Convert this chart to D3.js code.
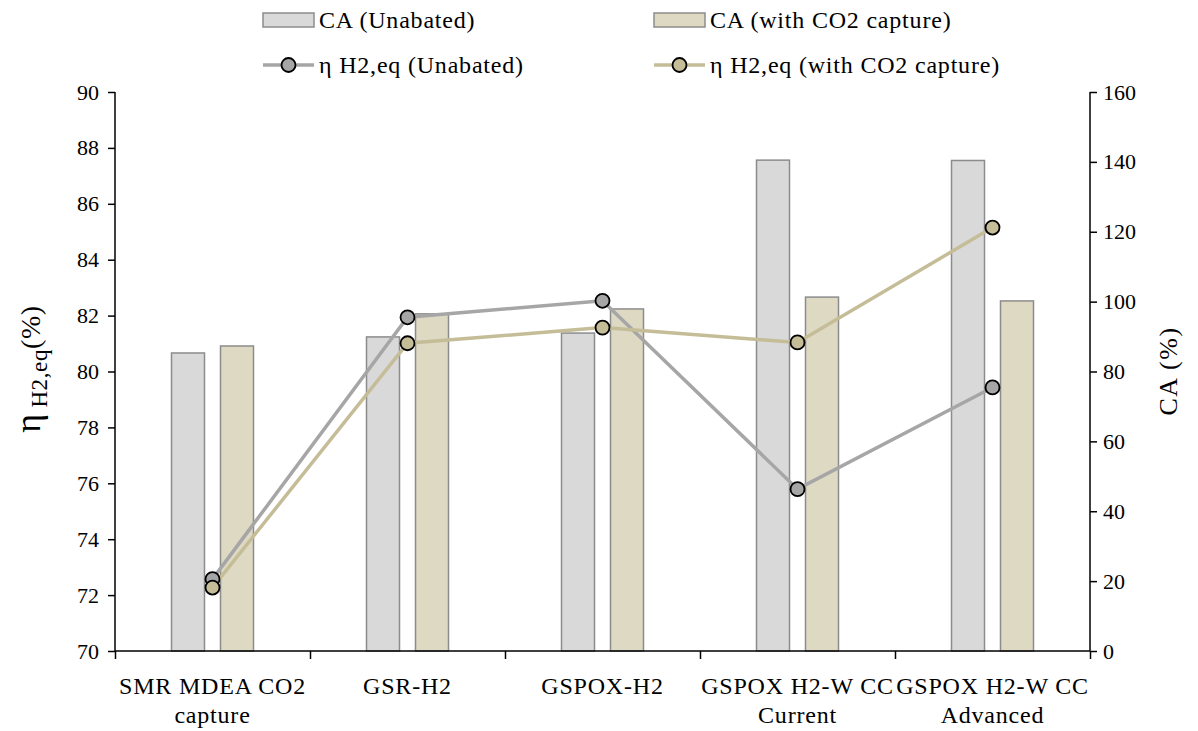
<!DOCTYPE html>
<html><head><meta charset="utf-8">
<script src="https://cdn.jsdelivr.net/npm/d3@7"></script>
<style>body{margin:0;background:#fff}svg{display:block}svg text{font-family:'Liberation Serif','Times New Roman','DejaVu Serif',serif !important;fill:#000}</style>
</head><body><svg id="c" width="1198" height="731"></svg>
<script>
const categories = [["SMR MDEA CO2","capture"],["GSR-H2"],["GSPOX-H2"],["GSPOX H2-W CC","Current"],["GSPOX H2-W CC","Advanced"]];
const caUnabated = [85.3, 89.9, 91.0, 140.5, 140.4];
const caCapture = [87.3, 96.5, 97.9, 101.3, 100.2];
const etaUnabated = [72.57, 81.94, 82.53, 75.79, 79.43];
const etaCapture = [72.27, 81.01, 81.57, 81.04, 85.15];
const leftTicks = [70,72,74,76,78,80,82,84,86,88,90];
const rightTicks = [0,20,40,60,80,100,120,140,160];
const legendLabels = ["CA (Unabated)","CA (with CO2 capture)","η H2,eq (Unabated)","η H2,eq (with CO2 capture)"];

const col = {barU:"#d9d9d9", barC:"#ddd9c3", barStroke:"#8c8c8c", lineU:"#a6a6a6", lineC:"#c4bd97"};
const svg = d3.select("#c");
const L = 115, R = 1090, T = 92, B = 651;
const x = d3.scaleBand().domain(d3.range(categories.length)).range([L, R]);
const yL = d3.scaleLinear().domain([70, 90]).range([B, T]);
const yR = d3.scaleLinear().domain([0, 160]).range([B, T]);
const bw = 33, off = 24.5;
const fs = 24, ls = "0.8px", tfs = 22;

// bars
const gB = svg.append("g");
gB.selectAll("rect.u").data(caUnabated).join("rect")
  .attr("x",(d,i)=>x(i)+x.bandwidth()/2-off-bw/2).attr("width",bw)
  .attr("y",d=>yR(d)).attr("height",d=>B-yR(d))
  .attr("fill",col.barU).attr("stroke",col.barStroke).attr("stroke-width",1.5);
gB.selectAll("rect.c").data(caCapture).join("rect")
  .attr("x",(d,i)=>x(i)+x.bandwidth()/2+off-bw/2).attr("width",bw)
  .attr("y",d=>yR(d)).attr("height",d=>B-yR(d))
  .attr("fill",col.barC).attr("stroke",col.barStroke).attr("stroke-width",1.5);

// axes
const axL = svg.append("g").attr("transform",`translate(${L},0)`)
  .call(d3.axisLeft(yL).tickValues(leftTicks).tickSize(7).tickPadding(9));
const axR = svg.append("g").attr("transform",`translate(${R},0)`)
  .call(d3.axisRight(yR).tickValues(rightTicks).tickSize(7).tickPadding(6));
const xb = d3.scaleLinear().domain([0,categories.length]).range([L,R]);
const axB = svg.append("g").attr("transform",`translate(0,${B})`)
  .call(d3.axisBottom(xb).tickValues(d3.range(categories.length+1)).tickSize(8).tickFormat(""));
[axL,axR,axB].forEach(a=>{
  a.attr("font-family",null);
  a.select(".domain").attr("stroke","#000").attr("stroke-width",1.5);
  a.selectAll(".tick line").attr("stroke","#000").attr("stroke-width",1.5);
  a.selectAll("text").attr("font-size",tfs);
});
axL.select(".domain").attr("d",`M0,${B}V${T}`);
axR.select(".domain").attr("d",`M0,${B}V${T}`);
axB.select(".domain").attr("d",`M${L},0H${R}`);

// x labels
categories.forEach((c,i)=>{
  const cx = x(i)+x.bandwidth()/2;
  const t = svg.append("text").attr("text-anchor","middle").attr("font-size",fs)
    .attr("letter-spacing",ls).attr("x",cx).attr("y",694);
  c.forEach((s,j)=>t.append("tspan").attr("x",cx).attr("dy",j?29:0).text(s));
});

// lines
const line = yS => d3.line().x((d,i)=>x(i)+x.bandwidth()/2).y(d=>yS(d));
svg.append("path").datum(etaUnabated).attr("d",line(yL)).attr("fill","none").attr("stroke",col.lineU).attr("stroke-width",3.5);
svg.append("path").datum(etaCapture).attr("d",line(yL)).attr("fill","none").attr("stroke",col.lineC).attr("stroke-width",3.5);
svg.selectAll("circle.u").data(etaUnabated).join("circle").attr("cx",(d,i)=>x(i)+x.bandwidth()/2).attr("cy",d=>yL(d)).attr("r",7)
  .attr("fill",col.lineU).attr("stroke","#000").attr("stroke-width",1.8);
svg.selectAll("circle.c").data(etaCapture).join("circle").attr("cx",(d,i)=>x(i)+x.bandwidth()/2).attr("cy",d=>yL(d)).attr("r",7)
  .attr("fill",col.lineC).attr("stroke","#000").attr("stroke-width",1.8);

// axis titles
const lt = svg.append("text").attr("transform","translate(40,369) rotate(-90)").attr("text-anchor","middle");
lt.append("tspan").attr("font-size",36).text("η");
lt.append("tspan").attr("font-size",23).attr("dy",7).attr("letter-spacing","0.6px").text(" H2,eq");
lt.append("tspan").attr("font-size",28).attr("dy",-7).attr("letter-spacing","0.6px").text("(%)");
svg.append("text").attr("transform","translate(1177,371) rotate(-90)").attr("text-anchor","middle")
  .attr("font-size",26).attr("letter-spacing","1.5px").text("CA (%)");

// legend
const lx = [263, 654], ly = [20, 65];
legendLabels.forEach((s,k)=>{
  const cx = lx[k%2], cy = ly[Math.floor(k/2)];
  const c = (k%2===0)?"U":"C";
  if(k<2){
    svg.append("rect").attr("x",cx).attr("y",cy-7).attr("width",51).attr("height",14)
      .attr("fill",c==="U"?col.barU:col.barC).attr("stroke",col.barStroke).attr("stroke-width",1.5);
  } else {
    svg.append("line").attr("x1",cx).attr("x2",cx+51).attr("y1",cy).attr("y2",cy)
      .attr("stroke",c==="U"?col.lineU:col.lineC).attr("stroke-width",3.5);
    svg.append("circle").attr("cx",cx+25.5).attr("cy",cy).attr("r",7)
      .attr("fill",c==="U"?col.lineU:col.lineC).attr("stroke","#000").attr("stroke-width",1.8);
  }
  svg.append("text").attr("x",cx+56).attr("y",cy+8).attr("font-size",fs).attr("letter-spacing",ls).text(s);
});
</script></body></html>
